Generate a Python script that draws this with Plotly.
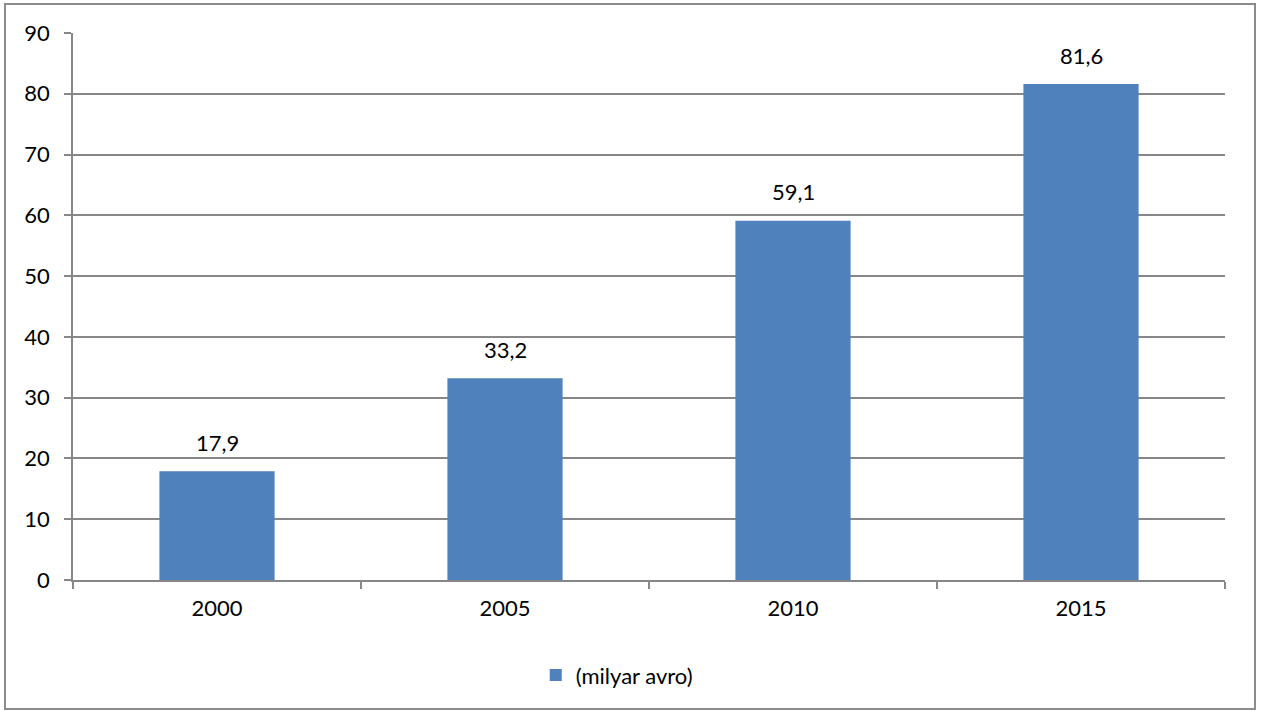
import plotly.graph_objects as go

years = ["2000", "2005", "2010", "2015"]
values = [17.9, 33.2, 59.1, 81.6]
labels = ["17,9", "33,2", "59,1", "81,6"]
series_name = "(milyar avro)"

FONT = "Lato, 'Open Sans', sans-serif"
GRID = "#878787"
FS = 22

fig = go.Figure()
fig.add_trace(go.Bar(
    x=years, y=values, name=series_name,
    marker=dict(color="#4F81BD", line=dict(width=0)),
    showlegend=True,
))

for i, (y, t) in enumerate(zip(values, labels)):
    fig.add_annotation(x=i, y=y, text=t, showarrow=False, yshift=29,
                       font=dict(family=FONT, size=FS, color="black"))

fig.update_layout(
    width=1262, height=711,
    margin=dict(l=73, r=37, t=33, b=131),
    paper_bgcolor="white", plot_bgcolor="white",
    bargap=0.6,
    font=dict(family=FONT, size=FS, color="black"),
    showlegend=True,
    legend=dict(orientation="h", x=0.472, xanchor="center", y=-0.174, yanchor="middle",
                font=dict(family=FONT, size=FS, color="black")),
    xaxis=dict(
        type="category",
        showline=True, linecolor=GRID, linewidth=1.5,
        ticks="outside", ticklen=7, tickcolor=GRID, tickwidth=1.5,
        tickson="boundaries", showgrid=False,
        tickfont=dict(size=FS), tickangle=0, ticklabelstandoff=8,
    ),
    yaxis=dict(
        range=[0, 90], dtick=10,
        showline=True, linecolor=GRID, linewidth=1.5,
        ticks="outside", ticklen=7, tickcolor=GRID, tickwidth=1.5,
        showgrid=True, gridcolor=GRID, gridwidth=1.5,
        zeroline=False, tickfont=dict(size=FS), ticklabelstandoff=10,
    ),
    shapes=[dict(type="rect", xref="paper", yref="paper",
                 x0=-68/1152, x1=1182/1152, y0=-129/547, y1=576/547,
                 line=dict(color="#8c8c8c", width=2), fillcolor="rgba(0,0,0,0)")],
)

fig.write_html("out.html", config={"displayModeBar": False},
               post_script="document.body.style.margin='0';")
